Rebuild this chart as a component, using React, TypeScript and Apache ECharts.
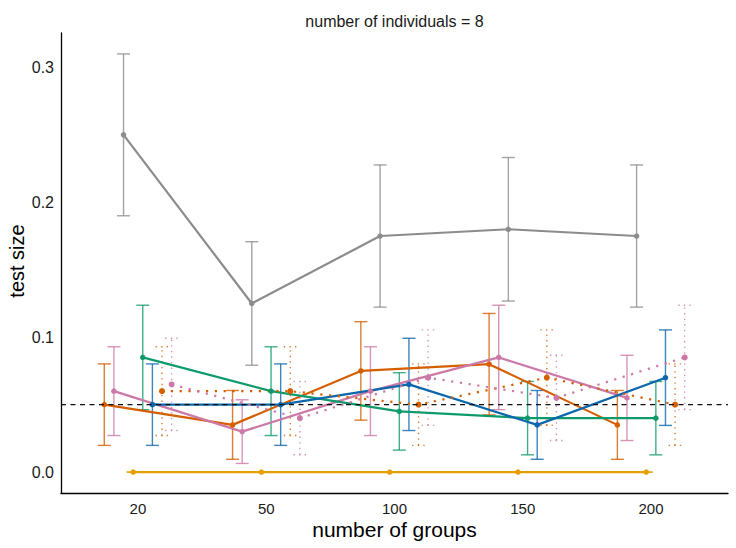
import React, { useEffect, useRef } from "react";
import * as echarts from "echarts";

// ---- data ----
const categories = ["20", "50", "100", "150", "200"];
const yTickValues = [0, 0.1, 0.2, 0.3];
const nominalLevel = 0.05;
const panelTitle = "number of individuals = 8";
const xTitle = "number of groups";
const yTitle = "test size";

// series in dodge order (left to right inside each group)
const redSolidValues = [0.05, 0.035, 0.075, 0.08, 0.035];
const redSolidLower = [0.0198, 0.0095, 0.0385, 0.0424, 0.0095];
const redSolidUpper = [0.0802, 0.0605, 0.1115, 0.1176, 0.0605];

const pinkSolidValues = [0.06, 0.03, 0.06, 0.085, 0.055];
const pinkSolidLower = [0.0271, 0.0064, 0.0271, 0.0463, 0.0234];
const pinkSolidUpper = [0.0929, 0.0536, 0.0929, 0.1237, 0.0866];

const grayValues = [0.25, 0.125, 0.175, 0.18, 0.175];
const grayLower = [0.19, 0.0792, 0.1223, 0.1268, 0.1223];
const grayUpper = [0.31, 0.1708, 0.2277, 0.2332, 0.2277];

const orangeValues = [0, 0, 0, 0, 0];
const orangeLower = [0, 0, 0, 0, 0];
const orangeUpper = [0, 0, 0, 0, 0];

const greenValues = [0.085, 0.06, 0.045, 0.04, 0.04];
const greenLower = [0.0463, 0.0271, 0.0163, 0.0128, 0.0128];
const greenUpper = [0.1237, 0.0929, 0.0737, 0.0672, 0.0672];

const blueValues = [0.05, 0.05, 0.065, 0.035, 0.07];
const blueLower = [0.0198, 0.0198, 0.0308, 0.0095, 0.0346];
const blueUpper = [0.0802, 0.0802, 0.0992, 0.0605, 0.1054];

const redDottedValues = [0.06, 0.06, 0.05, 0.07, 0.05];
const redDottedLower = [0.0271, 0.0271, 0.0198, 0.0346, 0.0198];
const redDottedUpper = [0.0929, 0.0929, 0.0802, 0.1054, 0.0802];

const pinkDottedValues = [0.065, 0.04, 0.07, 0.055, 0.085];
const pinkDottedLower = [0.0308, 0.0128, 0.0346, 0.0234, 0.0463];
const pinkDottedUpper = [0.0992, 0.0672, 0.1054, 0.0866, 0.1237];

type SeriesDef = {
  name: string;
  color: string;
  dotted: boolean;
  values: number[];
  lower: number[];
  upper: number[];
};

const seriesDefs: SeriesDef[] = [
  { name: "red solid", color: "#D55E00", dotted: false, values: redSolidValues, lower: redSolidLower, upper: redSolidUpper },
  { name: "pink solid", color: "#CC79A7", dotted: false, values: pinkSolidValues, lower: pinkSolidLower, upper: pinkSolidUpper },
  { name: "gray", color: "#8C8C8C", dotted: false, values: grayValues, lower: grayLower, upper: grayUpper },
  { name: "orange", color: "#E69F00", dotted: false, values: orangeValues, lower: orangeLower, upper: orangeUpper },
  { name: "green", color: "#0F9A6C", dotted: false, values: greenValues, lower: greenLower, upper: greenUpper },
  { name: "blue", color: "#0B66AC", dotted: false, values: blueValues, lower: blueLower, upper: blueUpper },
  { name: "red dotted", color: "#D55E00", dotted: true, values: redDottedValues, lower: redDottedLower, upper: redDottedUpper },
  { name: "pink dotted", color: "#CC79A7", dotted: true, values: pinkDottedValues, lower: pinkDottedLower, upper: pinkDottedUpper },
];

const FONT = "'Liberation Sans', Arial, Helvetica, sans-serif";
const DODGE_WIDTH = 0.6;

function buildOption() {
  const n = seriesDefs.length;
  const step = DODGE_WIDTH / n;
  const series: any[] = [];

  seriesDefs.forEach((def, si) => {
    const offset = (si - (n - 1) / 2) * step;
    const xs = def.values.map((_, ci) => ci + 1 + offset);

    series.push({
      type: "custom",
      name: def.name + " ci",
      z: 1,
      silent: true,
      clip: false,
      data: xs.map((x, ci) => [x, def.lower[ci], def.upper[ci]]),
      encode: { x: 0, y: [1, 2] },
      renderItem: (_params: any, api: any) => {
        const x = api.value(0);
        const lo = api.coord([x, api.value(1)]);
        const hi = api.coord([x, api.value(2)]);
        const hw = 6.5;
        const style: any = {
          stroke: def.color,
          lineWidth: 1.4,
          opacity: 0.8,
          lineDash: def.dotted ? [1.4, 4.2] : null,
        };
        return {
          type: "group",
          children: [
            { type: "line", shape: { x1: lo[0], y1: lo[1], x2: hi[0], y2: hi[1] }, style },
            { type: "line", shape: { x1: lo[0] - hw, y1: lo[1], x2: lo[0] + hw, y2: lo[1] }, style },
            { type: "line", shape: { x1: hi[0] - hw, y1: hi[1], x2: hi[0] + hw, y2: hi[1] }, style },
          ],
        };
      },
    });

    series.push({
      type: "line",
      name: def.name,
      z: 2,
      silent: true,
      data: xs.map((x, ci) => [x, def.values[ci]]),
      symbol: "circle",
      symbolSize: def.dotted ? 6 : 5.5,
      showSymbol: true,
      itemStyle: { color: def.color },
      lineStyle: {
        color: def.color,
        width: 2.2,
        type: def.dotted ? [2.2, 6.6] : "solid",
      },
    });
  });

  series.push({
    type: "line",
    name: "nominal",
    z: 5,
    silent: true,
    data: [
      [0.4, nominalLevel],
      [5.6, nominalLevel],
    ],
    symbol: "none",
    lineStyle: { color: "#111", width: 1.3, type: [5, 4.5] },
  });

  return {
    animation: false,
    backgroundColor: "#ffffff",
    grid: { left: 61, right: 8, top: 33, bottom: 55, outerBoundsMode: "none", containLabel: false },
    xAxis: {
      type: "value",
      min: 0.4,
      max: 5.6,
      splitLine: { show: false },
      axisTick: { show: false },
      axisLine: { show: true, onZero: false, lineStyle: { color: "#000", width: 1.3 } },
      axisLabel: {
        customValues: [1, 2, 3, 4, 5],
        formatter: (v: number) => categories[Math.round(v) - 1] ?? "",
        color: "#1a1a1a",
        fontSize: 15,
        lineHeight: 14,
        fontFamily: FONT,
        margin: 8,
      },
    },
    yAxis: {
      type: "value",
      min: -0.0155,
      max: 0.3255,
      splitLine: { show: false },
      axisTick: { show: false },
      axisLine: { show: true, onZero: false, lineStyle: { color: "#000", width: 1.3 } },
      axisLabel: {
        customValues: yTickValues,
        formatter: (v: number) => v.toFixed(1),
        color: "#1a1a1a",
        fontSize: 16,
        fontFamily: FONT,
        margin: 7,
      },
    },
    graphic: [
      {
        type: "text",
        x: 394.5,
        y: 21.5,
        style: {
          text: panelTitle,
          fill: "#1a1a1a",
          font: `16px ${FONT}`,
          textAlign: "center",
          textVerticalAlign: "middle",
        },
      },
      {
        type: "text",
        x: 394.5,
        y: 529.5,
        style: {
          text: xTitle,
          fill: "#000",
          font: `21px ${FONT}`,
          textAlign: "center",
          textVerticalAlign: "middle",
        },
      },
      {
        type: "text",
        x: 17,
        y: 261,
        rotation: Math.PI / 2,
        style: {
          text: yTitle,
          fill: "#000",
          font: `20px ${FONT}`,
          textAlign: "center",
          textVerticalAlign: "middle",
        },
      },
    ],
    series,
  };
}

export default function App() {
  const ref = useRef<HTMLDivElement>(null);
  useEffect(() => {
    if (!ref.current) return;
    const chart = echarts.init(ref.current, undefined, { renderer: "svg" });
    chart.setOption(buildOption() as any);
    return () => chart.dispose();
  }, []);
  return (
    <div
      ref={ref}
      style={{ position: "fixed", left: 0, top: 0, width: 736, height: 548, background: "#fff" }}
    />
  );
}
